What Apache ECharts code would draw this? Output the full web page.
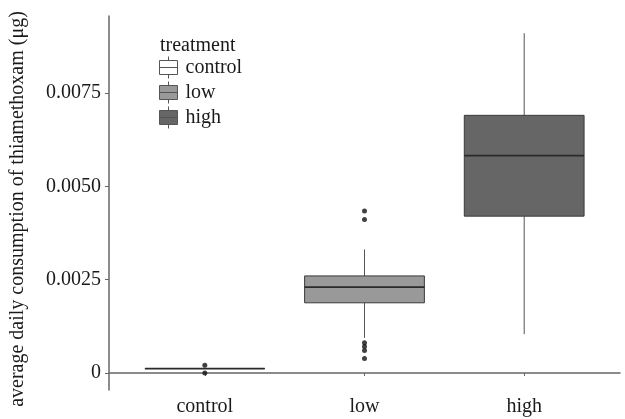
<!DOCTYPE html>
<html>
<head>
<meta charset="utf-8">
<script src="https://cdn.jsdelivr.net/npm/echarts@6/dist/echarts.min.js"></script>
<style>html,body{margin:0;padding:0;background:#fff}#c{width:625px;height:419px}</style>
</head>
<body>
<div id="c"></div>
<script>
// ---- data ----
const categories = ['control', 'low', 'high'];
const whiskerLow = [0.00012, 0.00094, 0.00104];
const q1 = [0.00012, 0.00188, 0.00420];
const medians = [0.00012, 0.00230, 0.00582];
const q3 = [0.00012, 0.00260, 0.00690];
const whiskerHigh = [0.00012, 0.00331, 0.00910];
const outliersControl = [0.00021, 0.0];
const outliersLow = [0.00434, 0.00411, 0.00081, 0.00071, 0.00060, 0.00039];
const outliersHigh = [];
const yTicks = [0, 0.0025, 0.0050, 0.0075];
const fills = ['#ffffff', '#999999', '#666666'];

const FONT = 'Liberation Serif';
const FS = 20;
const chart = echarts.init(document.getElementById('c'));

function renderBox(params, api) {
  const x = api.value(0);
  const vMin = api.value(1), vQ1 = api.value(2), vMed = api.value(3), vQ3 = api.value(4), vMax = api.value(5);
  const w = api.size([0.75, 0])[0];
  const pMin = api.coord([x, vMin]);
  const pQ1 = api.coord([x, vQ1]);
  const pMed = api.coord([x, vMed]);
  const pQ3 = api.coord([x, vQ3]);
  const pMax = api.coord([x, vMax]);
  const cx = pMed[0];
  const fill = api.visual('color');
  return {
    type: 'group',
    children: [
      {type: 'line', shape: {x1: cx, y1: pMax[1], x2: cx, y2: pQ3[1]}, style: {stroke: '#555', lineWidth: 1}},
      {type: 'line', shape: {x1: cx, y1: pQ1[1], x2: cx, y2: pMin[1]}, style: {stroke: '#555', lineWidth: 1}},
      {type: 'rect', shape: {x: cx - w / 2, y: pQ3[1], width: w, height: Math.max(pQ1[1] - pQ3[1], 0)},
        style: {fill: fill, stroke: '#3a3a3a', lineWidth: 1}},
      {type: 'line', shape: {x1: cx - w / 2, y1: pMed[1], x2: cx + w / 2, y2: pMed[1]}, style: {stroke: '#2a2a2a', lineWidth: 1.8}}
    ]
  };
}

const outlierSets = [outliersControl, outliersLow, outliersHigh];
const series = [];
categories.forEach((c, i) => {
  series.push({
    type: 'custom',
    name: c,
    renderItem: renderBox,
    itemStyle: {color: fills[i]},
    encode: {x: 0, y: [1, 2, 3, 4, 5]},
    data: [[i + 1, whiskerLow[i], q1[i], medians[i], q3[i], whiskerHigh[i]]],
    z: 2
  });
});
const outlierData = [];
outlierSets.forEach((arr, i) => arr.forEach(v => outlierData.push([i + 1, v])));
series.push({
  type: 'scatter',
  name: 'outliers',
  symbolSize: 5,
  itemStyle: {color: '#111'},
  data: outlierData,
  z: 3
});

const legendIcon = 'path://M0,4L18,4L18,18L0,18Z M0,11L18,11 M9,0L9,4 M9,18L9,22';

chart.setOption({
  animation: false,
  backgroundColor: '#fff',
  textStyle: {fontFamily: FONT},
  title: {
    text: 'treatment',
    left: 155, top: 31,
    textStyle: {fontFamily: FONT, fontSize: FS, fontWeight: 'normal', color: '#1a1a1a'}
  },
  legend: {
    orient: 'vertical',
    left: 159, top: 56,
    padding: 0,
    itemWidth: 18, itemHeight: 22,
    itemGap: 2,
    symbolKeepAspect: false,
    textStyle: {fontFamily: FONT, fontSize: FS, color: '#1a1a1a', padding: [0, 0, 0, 3]},
    data: categories.map((c, i) => ({
      name: c, icon: legendIcon,
      itemStyle: {color: fills[i], borderColor: '#555', borderWidth: 1}
    }))
  },
  grid: {left: 105, right: 5, top: 16, bottom: 29, containLabel: false},
  xAxis: {
    type: 'value',
    min: 0.4, max: 3.6,
    splitLine: {show: false},
    axisLine: {show: true, lineStyle: {color: '#666', width: 1.5}},
    axisTick: {show: true, length: 3, customValues: [1, 2, 3], lineStyle: {color: '#666'}},
    axisLabel: {
      customValues: [1, 2, 3],
      formatter: v => categories[Math.round(v) - 1],
      fontFamily: FONT, fontSize: FS, color: '#1a1a1a', margin: 7
    }
  },
  yAxis: {
    type: 'value',
    min: -0.000455, max: 0.00956,
    name: 'average daily consumption of thiamethoxam (μg)',
    nameLocation: 'middle',
    nameGap: 81,
    nameTextStyle: {fontFamily: FONT, fontSize: FS, color: '#1a1a1a', padding: [0, 12, 0, 0]},
    splitLine: {show: false},
    axisLine: {show: true, lineStyle: {color: '#666', width: 1.5}},
    axisTick: {show: true, length: 4, customValues: yTicks, lineStyle: {color: '#666'}},
    axisLabel: {
      customValues: yTicks,
      formatter: v => v === 0 ? '0' : v.toFixed(4),
      fontFamily: FONT, fontSize: FS, color: '#1a1a1a', margin: 8
    }
  },
  series: series
});
</script>
</body>
</html>
